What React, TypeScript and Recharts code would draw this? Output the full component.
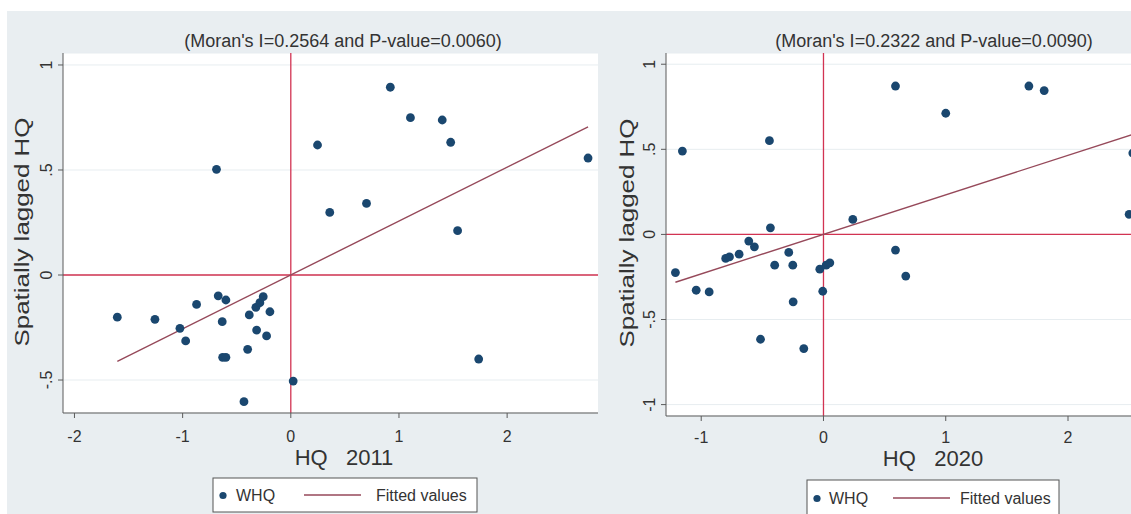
import React from 'react';
import { ComposedChart, Scatter, Line, XAxis, YAxis, CartesianGrid, ReferenceLine } from 'recharts';

// ---- Data ----
const whq2011X = [0.92, 1.106, 1.40, 1.478, 0.247, -0.687, 2.748, 0.70, 0.36, 1.542, -1.604, -1.256, -1.025, -0.972, -0.871, -0.671, -0.60, -0.634, -0.63, -0.60, -0.399, -0.384, -0.316, -0.323, -0.286, -0.255, -0.193, -0.224, -0.433, 0.022, 1.737];
const whq2011Y = [0.894, 0.749, 0.738, 0.632, 0.619, 0.503, 0.557, 0.341, 0.298, 0.211, -0.201, -0.211, -0.254, -0.314, -0.14, -0.099, -0.119, -0.222, -0.392, -0.392, -0.354, -0.19, -0.262, -0.154, -0.132, -0.103, -0.175, -0.29, -0.603, -0.505, -0.40];
const fit2011X = [-1.604, 2.748];
const fit2011Y = [-0.411, 0.705];

const whq2020X = [0.589, 1.68, 1.805, 1.0, -0.442, -1.154, 2.53, 2.50, 0.24, -0.434, 0.589, -1.211, -1.041, -0.935, -0.80, -0.769, -0.69, -0.611, -0.565, -0.399, -0.284, -0.251, -0.248, -0.515, -0.161, -0.03, -0.006, 0.022, 0.052, 0.673];
const whq2020Y = [0.872, 0.872, 0.845, 0.712, 0.551, 0.49, 0.478, 0.118, 0.088, 0.039, -0.092, -0.224, -0.328, -0.338, -0.141, -0.132, -0.116, -0.039, -0.073, -0.181, -0.106, -0.181, -0.396, -0.616, -0.671, -0.204, -0.334, -0.181, -0.167, -0.245];
const fit2020X = [-1.211, 2.53];
const fit2020Y = [-0.281, 0.588];

const xTicks2011 = [-2, -1, 0, 1, 2];
const yTicks2011 = [-0.5, 0, 0.5, 1];
const xTicks2020 = [-1, 0, 1, 2];
const yTicks2020 = [-1, -0.5, 0, 0.5, 1];
const yTickValues = [-1, -0.5, 0, 0.5, 1];
const yTickLabels = ['-1', '-.5', '0', '.5', '1'];

const titles = ["(Moran's I=0.2564 and P-value=0.0060)", "(Moran's I=0.2322 and P-value=0.0090)"];
const xTitles = ['HQ   2011', 'HQ   2020'];
const yTitle = 'Spatially lagged HQ';
const legendNames = ['WHQ', 'Fitted values'];

// ---- Styles ----
const FONT = '"Liberation Sans", Arial, sans-serif';
const BG = '#e9eef1';
const NAVY = '#1a476f';
const MAROON = '#96495a';
const REF = '#d23352';
const AXIS = '#5a5a5a';
const TEXT = '#333333';

const toPoints = (xs: number[], ys: number[]) => xs.map((x, i) => ({ x, y: ys[i] }));

const YTick = (props: any) => {
  const { x, y, payload } = props;
  const idx = yTickValues.indexOf(payload.value);
  const label = idx >= 0 ? yTickLabels[idx] : String(payload.value);
  const bx = x - 4;
  return (
    <text x={bx} y={y} transform={`rotate(-90, ${bx}, ${y})`} textAnchor="middle" fontSize={16} fill={TEXT} fontFamily={FONT}>
      {label}
    </text>
  );
};

const Dot = (props: any) => <circle cx={props.cx} cy={props.cy} r={4.4} fill={NAVY} />;

type PanelProps = {
  width: number;
  height: number;
  margin: { top: number; right: number; bottom: number; left: number };
  xDomain: [number, number];
  yDomain: [number, number];
  xTicks: number[];
  yTicks: number[];
  points: { x: number; y: number }[];
  fit: { x: number; y: number }[];
  tickMargin: number;
};

const Panel = (p: PanelProps) => (
  <ComposedChart width={p.width} height={p.height} margin={p.margin} style={{ fontFamily: FONT }}>
    <CartesianGrid fill="#ffffff" vertical={false} stroke="#e7edf0" strokeWidth={1} />
    <XAxis
      type="number"
      dataKey="x"
      domain={p.xDomain}
      ticks={p.xTicks}
      allowDataOverflow
      height={30}
      tickSize={5}
      tickMargin={p.tickMargin}
      stroke={AXIS}
      tick={{ fontSize: 16, fill: TEXT, fontFamily: FONT }}
      tickFormatter={(v: number) => String(v)}
    />
    <YAxis
      type="number"
      dataKey="y"
      domain={p.yDomain}
      ticks={p.yTicks}
      allowDataOverflow
      width={40}
      tickSize={5}
      stroke={AXIS}
      tick={<YTick />}
    />
    <ReferenceLine x={0} stroke={REF} strokeWidth={1.3} />
    <ReferenceLine y={0} stroke={REF} strokeWidth={1.3} />
    <Scatter data={p.points} dataKey="y" shape={<Dot />} isAnimationActive={false} />
    <Line data={p.fit} dataKey="y" type="linear" stroke={MAROON} strokeWidth={1.4} dot={false} activeDot={false} isAnimationActive={false} />
  </ComposedChart>
);

const LegendBox = ({ x, y, w, h, dotX, textX, lineX1, lineX2, fitX }: any) => (
  <g>
    <rect x={x} y={y} width={w} height={h} fill="#ffffff" stroke="#555555" strokeWidth={1} />
    <circle cx={dotX} cy={y + h / 2 + 0.5} r={3.6} fill={NAVY} />
    <text x={textX} y={y + h / 2 + 6} fontSize={16} fill={TEXT} fontFamily={FONT}>{legendNames[0]}</text>
    <line x1={lineX1} x2={lineX2} y1={y + h / 2} y2={y + h / 2} stroke={MAROON} strokeWidth={1.4} />
    <text x={fitX} y={y + h / 2 + 6} fontSize={16} fill={TEXT} fontFamily={FONT}>{legendNames[1]}</text>
  </g>
);

export default function App() {
  const left = toPoints(whq2011X, whq2011Y);
  const leftFit = toPoints(fit2011X, fit2011Y);
  const right = toPoints(whq2020X, whq2020Y);
  const rightFit = toPoints(fit2020X, fit2020Y);

  return (
    <div style={{ position: 'absolute', left: 0, top: 0, width: 1131, height: 514, overflow: 'hidden', background: '#ffffff', fontFamily: FONT }}>
      <div style={{ position: 'absolute', left: 7, top: 11, right: 0, bottom: 0, background: BG }} />
      <div style={{ position: 'absolute', left: 0, top: 0 }}>
        <Panel
          width={600}
          height={514}
          margin={{ top: 53, right: 2, bottom: 71, left: 23 }}
          xDomain={[-2.106, 2.84]}
          yDomain={[-0.657, 1.057]}
          xTicks={xTicks2011}
          yTicks={yTicks2011}
          points={left}
          fit={leftFit}
          tickMargin={13}
        />
      </div>
      <div style={{ position: 'absolute', left: 600, top: 0 }}>
        <Panel
          width={560}
          height={514}
          margin={{ top: 53, right: 2, bottom: 68, left: 26 }}
          xDomain={[-1.288, 2.736]}
          yDomain={[-1.067, 1.066]}
          xTicks={xTicks2020}
          yTicks={yTicks2020}
          points={right}
          fit={rightFit}
          tickMargin={11}
        />
      </div>
      <svg width={1131} height={514} style={{ position: 'absolute', left: 0, top: 0, pointerEvents: 'none' }}>
        <text x={343} y={47} textAnchor="middle" fontSize={18} fill={TEXT} fontFamily={FONT}>{titles[0]}</text>
        <text x={934} y={47} textAnchor="middle" fontSize={18} fill={TEXT} fontFamily={FONT}>{titles[1]}</text>
        <text x={344} y={465} textAnchor="middle" fontSize={22} fill={TEXT} fontFamily={FONT} style={{ whiteSpace: 'pre' }}>{xTitles[0]}</text>
        <text x={933} y={466} textAnchor="middle" fontSize={22} fill={TEXT} fontFamily={FONT} style={{ whiteSpace: 'pre' }}>{xTitles[1]}</text>
        <text x={29} y={232} transform="rotate(-90, 29, 232)" textAnchor="middle" fontSize={20} textLength={229} lengthAdjust="spacingAndGlyphs" fill={TEXT} fontFamily={FONT}>{yTitle}</text>
        <text x={634} y={233} transform="rotate(-90, 634, 233)" textAnchor="middle" fontSize={20} textLength={229} lengthAdjust="spacingAndGlyphs" fill={TEXT} fontFamily={FONT}>{yTitle}</text>
        <LegendBox x={213} y={478} w={264} h={34} dotX={223} textX={236} lineX1={304} lineX2={361} fitX={376} />
        <LegendBox x={807} y={480} w={252} h={36} dotX={817} textX={829} lineX1={893} lineX2={950} fitX={960} />
      </svg>
    </div>
  );
}
